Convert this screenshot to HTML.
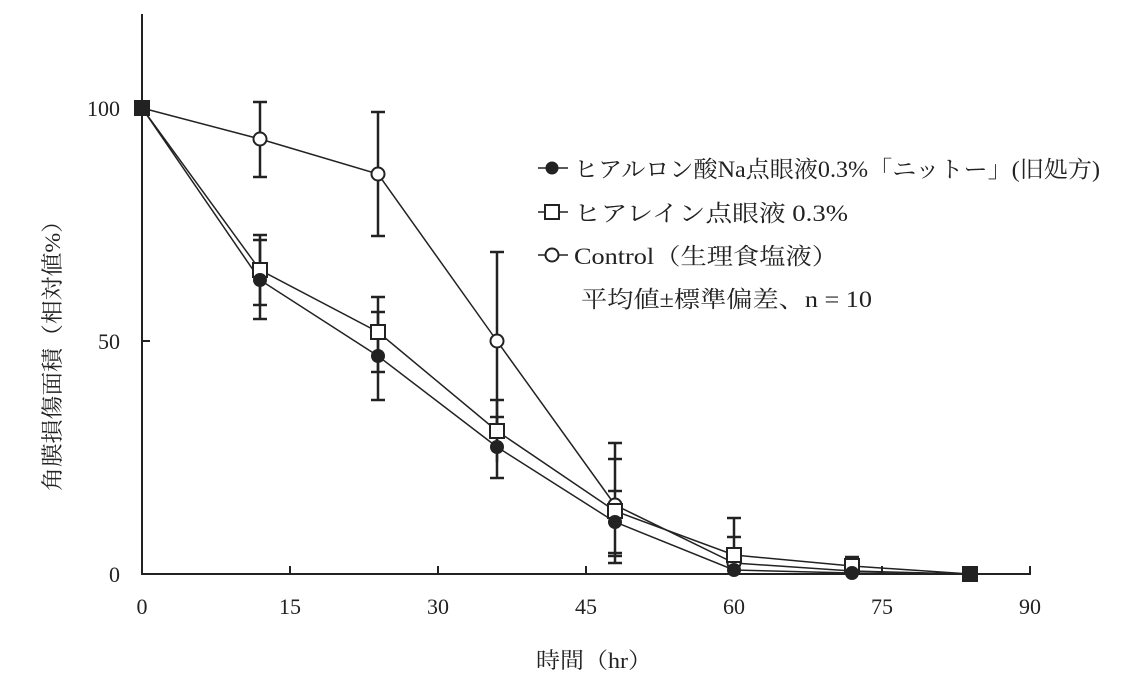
<!DOCTYPE html>
<html><head><meta charset="utf-8"><style>
body{margin:0;background:#fff}
svg text{font-family:"Liberation Serif","Noto Serif CJK SC","Noto Sans CJK JP",serif;fill:#222}
</style></head><body>
<svg width="1129" height="686" xmlns="http://www.w3.org/2000/svg">
<g stroke="#222" stroke-width="2" fill="none">
<line x1="142" y1="14" x2="142" y2="575"/>
<line x1="141" y1="574" x2="1031" y2="574"/>
<line x1="142" y1="341" x2="150" y2="341"/>
<line x1="142" y1="108" x2="150" y2="108"/>
<line x1="290" y1="574" x2="290" y2="566"/>
<line x1="438" y1="574" x2="438" y2="566"/>
<line x1="586" y1="574" x2="586" y2="566"/>
<line x1="734" y1="574" x2="734" y2="566"/>
<line x1="882" y1="574" x2="882" y2="566"/>
<line x1="1030" y1="574" x2="1030" y2="566"/>
</g>
<g font-size="22" text-anchor="end">
<text x="120" y="116">100</text><text x="120" y="349">50</text><text x="120" y="582">0</text>
</g>
<g font-size="22" text-anchor="middle">
<text x="142" y="614">0</text><text x="290" y="614">15</text><text x="438" y="614">30</text><text x="586" y="614">45</text><text x="734" y="614">60</text><text x="882" y="614">75</text><text x="1030" y="614">90</text>
<text x="594" y="668" textLength="116" lengthAdjust="spacingAndGlyphs">時間（hr）</text>
<text transform="translate(60,350) rotate(-90)" textLength="282" lengthAdjust="spacingAndGlyphs">角膜損傷面積（相対値%）</text>
</g>
<g stroke="#222" stroke-width="2.5">
<path d="M260 240V319M253 240h14M253 319h14"/>
<path d="M260 235V305M253 235h14M253 305h14"/>
<path d="M260 102V177M253 102h14M253 177h14"/>
<path d="M378 312V400M371 312h14M371 400h14"/>
<path d="M378 297V372M371 297h14M371 372h14"/>
<path d="M378 112V236M371 112h14M371 236h14"/>
<path d="M497 417V478M490 417h14M490 478h14"/>
<path d="M497 400V462M490 400h14"/>
<path d="M497 252V430M490 252h14M490 430h14"/>
<path d="M615 443V563M608 443h14M608 563h14M608 459h14M608 556h14M608 491h14M608 553h14"/>
<path d="M734 518V572M727 518h14M727 537h14"/>
<path d="M852 557V572M845 557h14"/>
</g>
<g stroke="#222" stroke-width="1.5" fill="none">
<polyline points="142,108 260,280 378,356 497,447 615,522 734,570 852,573 970,574"/>
<polyline points="142,108 260,270 378,332 497,431 615,511 734,555 852,566 970,574"/>
<polyline points="142,108 260,139 378,174 497,341 615,505 734,563 852,571 970,574"/>
</g>
<g stroke="#222" stroke-width="2" fill="#fff">
<circle cx="260" cy="139" r="6.5"/><circle cx="378" cy="174" r="6.5"/><circle cx="497" cy="341" r="6.5"/><circle cx="615" cy="505" r="6.5"/><circle cx="734" cy="563" r="6.5"/><circle cx="852" cy="571" r="6.5"/>
<rect x="253" y="263" width="14" height="14"/><rect x="371" y="325" width="14" height="14"/><rect x="490" y="424" width="14" height="14"/><rect x="608" y="504" width="14" height="14"/><rect x="727" y="548" width="14" height="14"/><rect x="845" y="559" width="14" height="14"/>
</g>
<g fill="#222">
<circle cx="260" cy="280" r="7"/><circle cx="378" cy="356" r="7"/><circle cx="497" cy="447" r="7"/><circle cx="615" cy="522" r="7"/><circle cx="734" cy="570" r="7"/><circle cx="852" cy="573" r="7"/>
<rect x="134" y="100" width="16" height="16"/><rect x="962" y="566" width="16" height="16"/>
</g>
<g stroke="#222" stroke-width="1.5">
<line x1="538" y1="168" x2="568" y2="168"/><line x1="538" y1="212" x2="568" y2="212"/><line x1="538" y1="255" x2="568" y2="255"/>
</g>
<circle cx="552" cy="168" r="6.5" fill="#222"/>
<rect x="545" y="205" width="14" height="14" fill="#fff" stroke="#222" stroke-width="2"/>
<circle cx="552" cy="255" r="6.5" fill="#fff" stroke="#222" stroke-width="2"/>
<g font-size="23">
<text x="574" y="177" textLength="526" lengthAdjust="spacingAndGlyphs">ヒアルロン酸Na点眼液0.3%「ニットー」(旧処方)</text>
<text x="574" y="221" textLength="274" lengthAdjust="spacingAndGlyphs">ヒアレイン点眼液 0.3%</text>
<text x="574" y="264" textLength="264" lengthAdjust="spacingAndGlyphs">Control（生理食塩液）</text>
<text x="581" y="307" textLength="291" lengthAdjust="spacingAndGlyphs">平均値±標準偏差、n = 10</text>
</g>
</svg>
</body></html>
